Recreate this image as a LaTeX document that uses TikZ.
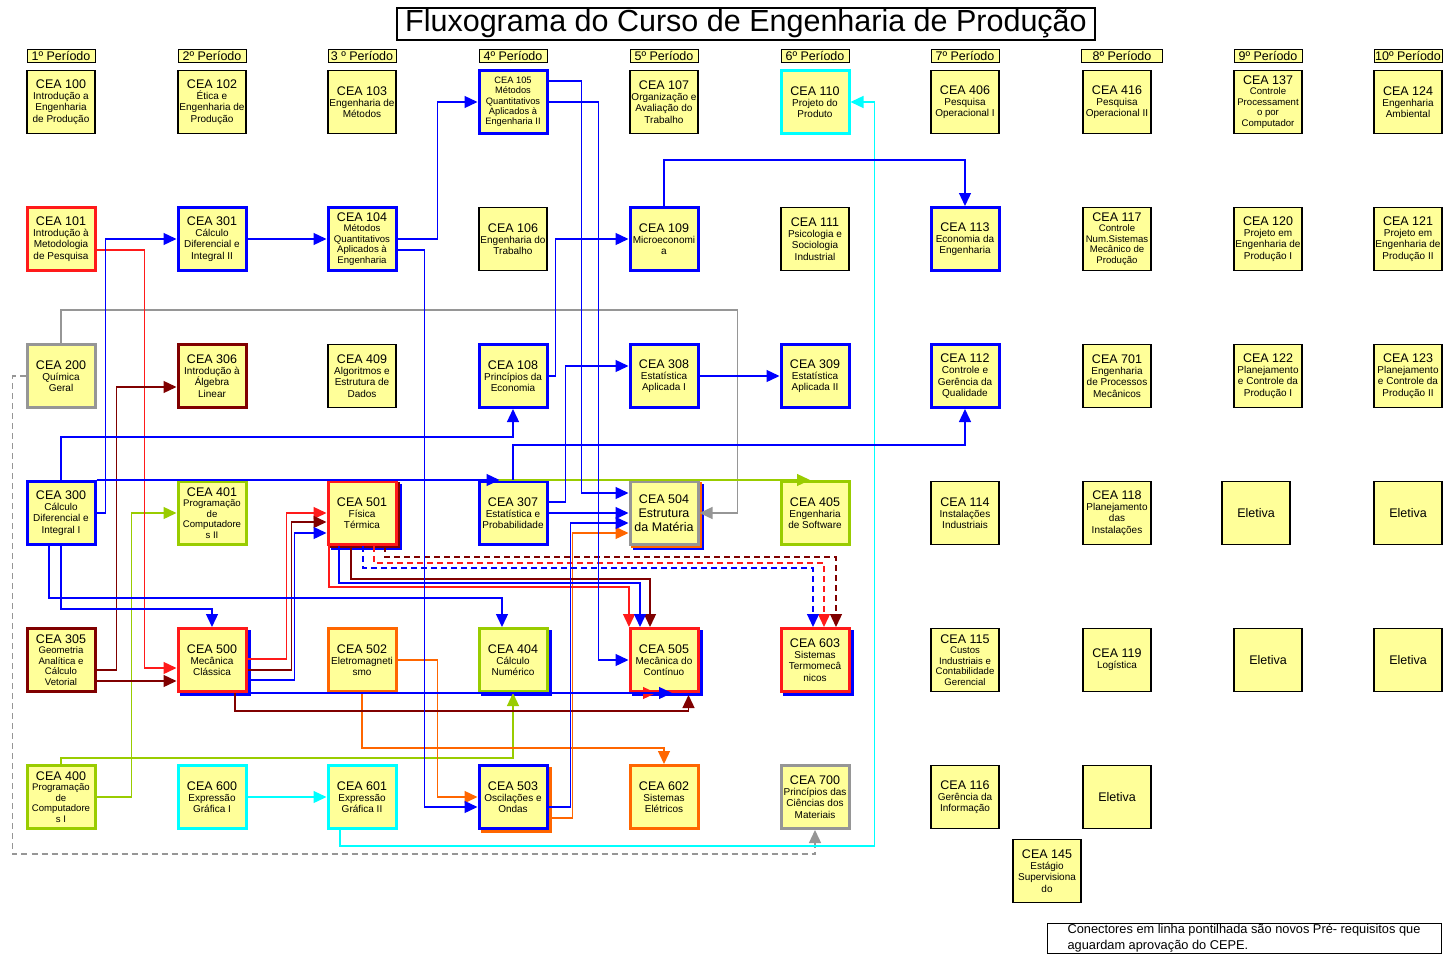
\documentclass[tikz,border=0pt]{standalone}
\usepackage{fontspec}
\setmainfont{Liberation Sans}
\usetikzlibrary{arrows.meta, calc, shadows}

\definecolor{boxfill}{HTML}{FFFF99}
\definecolor{cblue}{HTML}{0000FF}
\definecolor{cred}{HTML}{FF1A1A}
\definecolor{cmaroon}{HTML}{800000}
\definecolor{cgrey}{HTML}{969696}
\definecolor{cgreen}{HTML}{99CC00}
\definecolor{ccyan}{HTML}{00FFFF}
\definecolor{corange}{HTML}{FF6600}

\newcommand{\hd}[1]{{\fontsize{12.5}{14}\selectfont CEA #1}}

\begin{document}
\begin{tikzpicture}[x=1pt, y=-1pt,
	box/.style={draw=black, line width=1.2pt, fill=boxfill, minimum width=68pt, minimum height=63pt, inner sep=0.5pt, align=center, font=\fontsize{10}{11.2}\selectfont},
	bluebox/.style={box, draw=cblue, line width=3pt},
	redbox/.style={box, draw=cred, line width=3pt},
	maroonbox/.style={box, draw=cmaroon, line width=3pt},
	greybox/.style={box, draw=cgrey, line width=3pt},
	greenbox/.style={box, draw=cgreen, line width=3pt},
	cyanbox/.style={box, draw=ccyan, line width=3pt},
	orangebox/.style={box, draw=corange, line width=3pt},
	bigtext/.style={font=\fontsize{12.5}{14}\selectfont},
	fiveline/.style={font=\fontsize{9.6}{10.6}\selectfont},
	cshadow/.style 2 args={copy shadow={shadow xshift=#2, shadow yshift=-#2, fill=#1, draw=#1}},
	period/.style={draw=black, line width=1pt, fill=boxfill, minimum width=68pt, minimum height=13pt, inner sep=0pt, font=\fontsize{12.5}{13}\selectfont},
	conn/.style={line width=1.3pt, -{Triangle[length=13pt, width=12pt]}},
	dconn/.style={conn, dash pattern=on 6pt off 4pt}]
	\useasboundingbox (0,0) rectangle (1445,955);
	\node[draw, line width=1.2pt, fill=white, minimum width=698pt, minimum height=32pt, inner sep=0pt, font=\fontsize{30.5}{32}\selectfont] (title) at (746,24) {Fluxograma do Curso de Engenharia de Produção};
	% period headers
	\foreach \n/\x in {1/61, 2/212, 4/513, 5/664, 6/815, 7/965, 9/1268, 10/1408}
		\node[period] (p\n) at (\x,56) {{\n}º Período};
	\node[period] (p3) at (362,56) {3 º Período};
	\node[period, minimum width=81pt] (p8) at (1122,56) {8º Período};
	% 1st row
	\node[box] (c100) at (61,102) {\hd{100}\\Introdução a\\Engenharia\\de Produção};
	\node[box] (c102) at (212,102) {\hd{102}\\Ética e\\Engenharia de\\Produção};
	\node[box] (c103) at (362,102) {\hd{103}\\Engenharia de\\Métodos};
	\node[bluebox, font=\fontsize{9.3}{10.3}\selectfont] (c105) at (513,102) {CEA 105\\Métodos\\Quantitativos\\Aplicados à\\Engenharia II};
	\node[box] (c107) at (664,102) {\hd{107}\\Organização e\\Avaliação do\\Trabalho};
	\node[cyanbox] (c110) at (815,102) {\hd{110}\\Projeto do\\Produto};
	\node[box] (c406) at (965,102) {\hd{406}\\Pesquisa\\Operacional I};
	\node[box] (c416) at (1117,102) {\hd{416}\\Pesquisa\\Operacional II};
	\node[box, fiveline] (c137) at (1268,102) {\hd{137}\\Controle\\Processament\\o por\\Computador};
	\node[box] (c124) at (1408,102) {\hd{124}\\Engenharia\\Ambiental};
	% 2nd row
	\node[redbox] (c101) at (61,239) {\hd{101}\\Introdução à\\Metodologia\\de Pesquisa};
	\node[bluebox] (c301) at (212,239) {\hd{301}\\Cálculo\\Diferencial e\\Integral II};
	\node[bluebox, fiveline] (c104) at (362,239) {\hd{104}\\Métodos\\Quantitativos\\Aplicados à\\Engenharia};
	\node[box] (c106) at (513,239) {\hd{106}\\Engenharia do\\Trabalho};
	\node[bluebox] (c109) at (664,239) {\hd{109}\\Microeconomi\\a};
	\node[box] (c111) at (815,239) {\hd{111}\\Psicologia e\\Sociologia\\Industrial};
	\node[bluebox] (c113) at (965,239) {\hd{113}\\Economia da\\Engenharia};
	\node[box, fiveline] (c117) at (1117,239) {\hd{117}\\Controle\\Num.Sistemas\\Mecânico de\\Produção};
	\node[box] (c120) at (1268,239) {\hd{120}\\Projeto em\\Engenharia de\\Produção I};
	\node[box] (c121) at (1408,239) {\hd{121}\\Projeto em\\Engenharia de\\Produção II};
	% 3rd row
	\node[greybox] (c200) at (61,376) {\hd{200}\\Química\\Geral};
	\node[maroonbox] (c306) at (212,376) {\hd{306}\\Introdução à\\Álgebra\\Linear};
	\node[box] (c409) at (362,376) {\hd{409}\\Algoritmos e\\Estrutura de\\Dados};
	\node[bluebox] (c108) at (513,376) {\hd{108}\\Princípios da\\Economia};
	\node[bluebox] (c308) at (664,376) {\hd{308}\\Estatística\\Aplicada I};
	\node[bluebox] (c309) at (815,376) {\hd{309}\\Estatística\\Aplicada II};
	\node[bluebox] (c112) at (965,376) {\hd{112}\\Controle e\\Gerência da\\Qualidade};
	\node[box] (c701) at (1117,376) {\hd{701}\\Engenharia\\de Processos\\Mecânicos};
	\node[box] (c122) at (1268,376) {\hd{122}\\Planejamento\\e Controle da\\Produção I};
	\node[box] (c123) at (1408,376) {\hd{123}\\Planejamento\\e Controle da\\Produção II};
	% 4th row
	\node[bluebox] (c300) at (61,513) {\hd{300}\\Cálculo\\Diferencial e\\Integral I};
	\node[greenbox, fiveline] (c401) at (212,513) {\hd{401}\\Programação\\de\\Computadore\\s II};
	\node[redbox, cshadow={cblue}{4pt}, cshadow={cmaroon}{2pt}] (c501) at (362,513) {\hd{501}\\Física\\Térmica};
	\node[bluebox] (c307) at (513,513) {\hd{307}\\Estatística e\\Probabilidade};
	\node[greybox, bigtext, cshadow={cblue}{4pt}, cshadow={corange}{2pt}] (c504) at (664,513) {\hd{504}\\Estrutura\\da Matéria};
	\node[greenbox] (c405) at (815,513) {\hd{405}\\Engenharia\\de Software};
	\node[box] (c114) at (965,513) {\hd{114}\\Instalações\\Industriais};
	\node[box] (c118) at (1117,513) {\hd{118}\\Planejamento\\das\\Instalações};
	\node[box, bigtext] (el1) at (1256,513) {Eletiva};
	\node[box, bigtext] (el2) at (1408,513) {Eletiva};
	% 5th row
	\node[maroonbox, fiveline] (c305) at (61,660) {\hd{305}\\Geometria\\Analítica e\\Cálculo\\Vetorial};
	\node[redbox, cshadow={cblue}{3pt}] (c500) at (212,660) {\hd{500}\\Mecânica\\Clássica};
	\node[orangebox] (c502) at (362,660) {\hd{502}\\Eletromagneti\\smo};
	\node[greenbox, cshadow={cblue}{3pt}] (c404) at (513,660) {\hd{404}\\Cálculo\\Numérico};
	\node[redbox, cshadow={cblue}{3pt}] (c505) at (664,660) {\hd{505}\\Mecânica do\\Contínuo};
	\node[redbox, cshadow={cblue}{3pt}] (c603) at (815,660) {\hd{603}\\Sistemas\\Termomecâ\\nicos};
	\node[box, fiveline] (c115) at (965,660) {\hd{115}\\Custos\\Industriais e\\Contabilidade\\Gerencial};
	\node[box] (c119) at (1117,660) {\hd{119}\\Logística};
	\node[box, bigtext] (el3) at (1268,660) {Eletiva};
	\node[box, bigtext] (el4) at (1408,660) {Eletiva};
	% 6th row
	\node[greenbox, fiveline] (c400) at (61,797) {\hd{400}\\Programação\\de\\Computadore\\s I};
	\node[cyanbox] (c600) at (212,797) {\hd{600}\\Expressão\\Gráfica I};
	\node[cyanbox] (c601) at (362,797) {\hd{601}\\Expressão\\Gráfica II};
	\node[bluebox, cshadow={corange}{3pt}] (c503) at (513,797) {\hd{503}\\Oscilações e\\Ondas};
	\node[orangebox] (c602) at (664,797) {\hd{602}\\Sistemas\\Elétricos};
	\node[greybox] (c700) at (815,797) {\hd{700}\\Princípios das\\Ciências dos\\Materiais};
	\node[box] (c116) at (965,797) {\hd{116}\\Gerência da\\Informação};
	\node[box, bigtext] (el5) at (1117,797) {Eletiva};
	\node[box] (c145) at (1047,871) {\hd{145}\\Estágio\\Supervisiona\\do};
	\node[draw, line width=1pt, minimum width=394pt, minimum height=30pt, inner sep=0.5pt, align=left, font=\fontsize{12.8}{15.5}\selectfont] (note) at (1244,938) {Conectores em linha pontilhada são novos Pré- requisitos que\\aguardam aprovação do CEPE.};
	% grey
	\draw[conn, cgrey] (c200.north) -- ++(0,-33) -| ($(c504.east)+(38,0)$) -- (c504.east);
	\draw[dconn, cgrey] (c200.west) -- ++(-13,0) |- ($(c700.south)+(0,24)$) -- (c700.south);
	% green
	\draw[conn, cgreen] (c401.north) -- ($(c405.north)+(-5,0)$);
	\draw[conn, cgreen] (c400.north) -- ++(0,-6) -| (c404.south);
	\draw[conn, cgreen] (c400.east) -- ++(35,0) |- (c401.west);
	% cyan
	\draw[conn, ccyan] (c600.east) -- (c601.west);
	\draw[conn, ccyan] ($(c601.south)+(-22,0)$) -- ++(0,16) -| ($(c110.east)+(24,0)$) -- (c110.east);
	% orange
	\draw[conn, corange] (c502.south) -- ++(0,55) -| (c602.north);
	\draw[conn, corange] (c502.east) -- ++(40,0) |- (c503.west);
	\draw[conn, corange] ($(c503.east)+(0,21)$) -- ++(24,0) |- ($(c504.west)+(0,20)$);
	% red
	\draw[conn, cred] ($(c101.east)+(0,11)$) -- ++(48,0) |- ($(c500.west)+(0,8)$);
	\draw[conn, cred] ($(c500.east)+(0,-1)$) -- ++(39,0) |- (c501.west);
	\draw[conn, cred] ($(c501.south)+(-33,0)$) -- ++(0,41) -| ($(c505.north)+(-35,0)$);
	\draw[dconn, cred] ($(c501.south)+(12,0)$) -- ++(0,17) -| ($(c603.north)+(9,0)$);
	\draw[conn, cred] (c500.south east) -- ($(c505.south)+(-8,0)$);
	% maroon
	\draw[conn, cmaroon] ($(c305.east)+(0,10)$) -- ++(20,0) |- ($(c306.west)+(0,11)$);
	\draw[conn, cmaroon] ($(c305.east)+(0,21)$) -- ($(c500.west)+(0,21)$);
	\draw[conn, cmaroon] ($(c500.east)+(0,10)$) -- ++(44,0) |- ($(c501.west)+(0,9)$);
	\draw[conn, cmaroon] ($(c501.south)+(-11,0)$) -- ++(0,33) -| ($(c505.north)+(-14,0)$);
	\draw[dconn, cmaroon] ($(c501.south)+(23,0)$) -- ++(0,11) -| ($(c603.north)+(21,0)$);
	\draw[conn, cmaroon] ($(c500.south)+(23,0)$) -- ++(0,18) -| ($(c505.south east)+(-11,2)$);
	% blue
	\draw[conn, cblue] (c300.east) -- ++(9,0) |- (c301.west);
	\draw[conn, cblue] (c301.east) -- (c104.west);
	\draw[conn, cblue] (c104.east) -- ++(40,0) |- (c105.west);
	\draw[conn, cblue] ($(c104.east)+(0,11)$) -- ++(27,0) |- ($(c503.west)+(0,10)$);
	\draw[conn, cblue] ($(c105.east)+(0,-21)$) -- ++(33,0) |- ($(c504.west)+(0,-20)$);
	\draw[conn, cblue] (c105.east) -- ++(50,0) |- (c505.west);
	\draw[conn, cblue] (c109.north) -- ++(0,-46) -| (c113.north);
	\draw[conn, cblue] (c108.east) -- ++(7,0) |- (c109.west);
	\draw[conn, cblue] ($(c307.east)+(0,-11)$) -- ++(17,0) |- ($(c308.west)+(0,-10)$);
	\draw[conn, cblue] (c308.east) -- (c309.west);
	\draw[conn, cblue] (c300.north) -- ++(0,-43) -| (c108.south);
	\draw[conn, cblue] (c307.north) -- ++(0,-35) -| (c112.south);
	\draw[conn, cblue] (c300.north east) -- ($(c307.north west)+(22,0)$);
	\draw[conn, cblue] ($(c300.south)+(-12,0)$) -- ++(0,52) -| ($(c404.north)+(-11,0)$);
	\draw[conn, cblue] (c300.south) -- ++(0,63) -| (c500.north);
	\draw[conn, cblue] (c307.east) -- (c504.west);
	\draw[conn, cblue] ($(c503.east)+(0,10)$) -- ++(22,0) |- ($(c504.west)+(0,10)$);
	\draw[conn, cblue] ($(c500.east)+(0,20)$) -- ++(47,0) |- ($(c501.west)+(0,20)$);
	\draw[conn, cblue] ($(c501.south)+(-23,0)$) -- ++(0,37) -| ($(c505.north)+(-24,0)$);
	\draw[dconn, cblue] ($(c501.south)+(1,0)$) -- ++(0,22) -| ($(c603.north)+(-2,0)$);
	\draw[conn, cblue] (c500.south east) -- ($(c505.south)+(8,0)$);
\end{tikzpicture}
\end{document}
